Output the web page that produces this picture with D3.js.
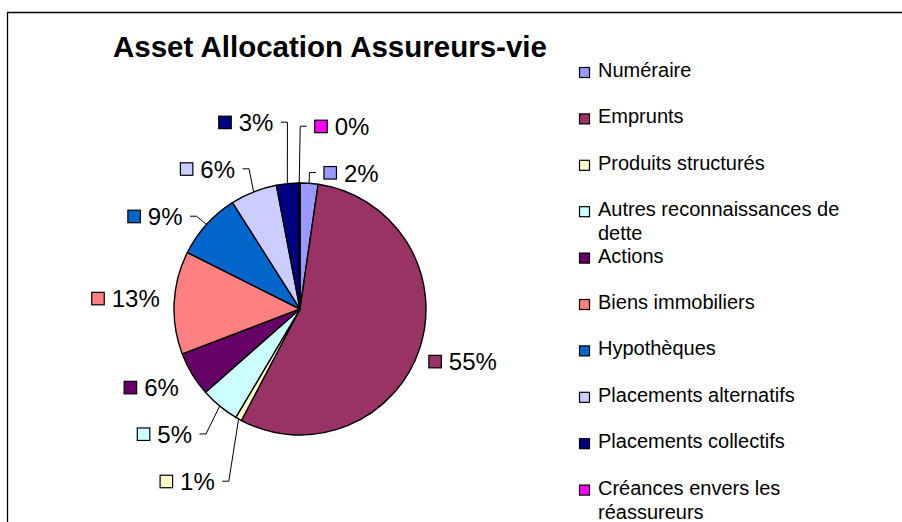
<!DOCTYPE html>
<html>
<head>
<meta charset="utf-8">
<script src="https://cdn.jsdelivr.net/npm/d3@7"></script>
<style>
  html, body { margin: 0; padding: 0; background: #fff; overflow: hidden; }
  svg { display: block; overflow: hidden; }
  text { font-family: "Liberation Sans", Arial, sans-serif; fill: #000; }
</style>
</head>
<body>
<svg id="chart" width="902" height="522"></svg>
<script>
// ---- data ----
const title = "Asset Allocation Assureurs-vie";
const categories = [
  "Numéraire",
  "Emprunts",
  "Produits structurés",
  "Autres reconnaissances de dette",
  "Actions",
  "Biens immobiliers",
  "Hypothèques",
  "Placements alternatifs",
  "Placements collectifs",
  "Créances envers les réassureurs"
];
const values = [2.3, 55.4, 0.8, 5.0, 5.7, 13.2, 8.6, 6.0, 2.8, 0.2];
const colors = ["#9999FF", "#993366", "#FFFFCC", "#CCFFFF", "#660066",
                "#FF8080", "#0066CC", "#CCCCFF", "#000080", "#FF00FF"];
// label displacement from default position (layout, px)
const labelNudges = [[38.7, 34.6], [0, 0], [-29.5, 23.4], [-26.6, -6.3], [-2.4, -9.6],
                     [-3.7, -1.6], [-18.2, 22.4], [-29.6, 19.3], [-37, -16.2], [42.9, -11.3]];

// ---- layout ----
const svg = d3.select("#chart");
const cx = 300, cy = 309, R = 126, labelR = 171;

// border (right and bottom edges fall outside the picture)
svg.append("path")
  .attr("d", "M7.5,530V12.5H910")
  .attr("fill", "none").attr("stroke", "#000").attr("stroke-width", 1.3);

// title
svg.append("text")
  .attr("x", 113).attr("y", 56.5)
  .style("font-size", "29.5px").style("font-weight", "bold")
  .text(title);

const total = d3.sum(values);
const pie = d3.pie().sort(null).value(d => d).startAngle(0).endAngle(2 * Math.PI);
const arcs = pie(values);
const arc = d3.arc().innerRadius(0).outerRadius(R);

const g = svg.append("g").attr("transform", `translate(${cx},${cy})`);
g.selectAll("path.slice").data(arcs).join("path")
  .attr("class", "slice")
  .attr("d", arc)
  .attr("fill", (d, i) => colors[i])
  .attr("stroke", "#000").attr("stroke-width", 1.4)
  .attr("stroke-linejoin", "round");

// data labels
const fmt = v => Math.round(v / total * 100) + "%";
const labels = svg.append("g");
arcs.forEach((a, i) => {
  const mid = (a.startAngle + a.endAngle) / 2;
  const px = cx + labelR * Math.sin(mid) + labelNudges[i][0];
  const py = cy - labelR * Math.cos(mid) + labelNudges[i][1];
  const lg = labels.append("g");
  const t = lg.append("text")
    .style("font-size", "24px")
    .text(fmt(values[i]));
  const tw = t.node().getComputedTextLength();
  const w = 20.5 + tw;
  const left = px - w / 2;
  lg.append("rect")
    .attr("x", left + 0.5).attr("y", py - 6.5)
    .attr("width", 12.5).attr("height", 12.5)
    .attr("fill", colors[i]).attr("stroke", "#000").attr("stroke-width", 1.2);
  t.attr("x", left + 20.5).attr("y", py + 8.5);

  const nudged = Math.hypot(labelNudges[i][0], labelNudges[i][1]) > 12;
  if (nudged) {
    const ex = cx + R * Math.sin(mid);
    const ey = cy - R * Math.cos(mid);
    let x0, x1;
    if (px < ex) { x0 = left + w + 7.5; x1 = x0 + 6.5; }
    else { x0 = left - 7.5; x1 = x0 - 6.5; }
    const ly = py - 0.5;
    labels.append("path")
      .attr("d", d3.line()([[x0, ly], [x1, ly], [ex, ey]]))
      .attr("fill", "none").attr("stroke", "#000").attr("stroke-width", 1);
  }
});

// legend
const ly = d3.scaleLinear().domain([0, 1]).range([77, 123.4]);
const legend = svg.append("g");
categories.forEach((c, i) => {
  const y = ly(i);
  legend.append("rect")
    .attr("x", 579.5).attr("y", y - 9.5)
    .attr("width", 10).attr("height", 10)
    .attr("fill", colors[i]).attr("stroke", "#000").attr("stroke-width", 1.2);
  const t = legend.append("text").attr("x", 598).attr("y", y).style("font-size", "20px");
  // wrap at max width
  const words = c.split(" ");
  let line = [], lineNo = 0;
  let ts = t.append("tspan").attr("x", 598).attr("y", y);
  words.forEach(wd => {
    line.push(wd);
    ts.text(line.join(" "));
    if (ts.node().getComputedTextLength() > 262 && line.length > 1) {
      line.pop();
      ts.text(line.join(" "));
      line = [wd];
      lineNo++;
      ts = t.append("tspan").attr("x", 598).attr("y", y + lineNo * 24).text(wd);
    }
  });
});
</script>
</body>
</html>
